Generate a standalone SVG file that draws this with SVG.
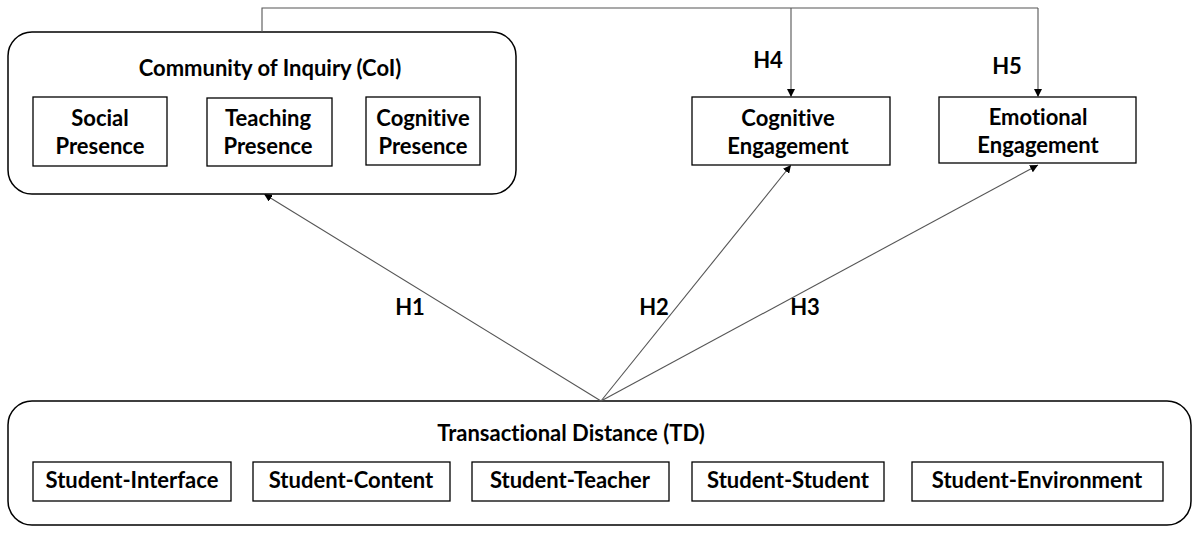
<svg xmlns="http://www.w3.org/2000/svg" width="1200" height="534" viewBox="0 0 1200 534">
<style>
.t{font-family:Lato,"Liberation Sans",sans-serif;font-weight:bold;font-size:22px;fill:#000;text-anchor:middle;font-variant-ligatures:none}
.big{fill:#fff;stroke:#000;stroke-width:1.5}
.box{fill:#fff;stroke:#000;stroke-width:1.3}
.c{fill:none;stroke:#555;stroke-width:1.1}
</style>
<defs>
<marker id="ah" viewBox="0 0 10 10" refX="10" refY="5" markerWidth="8" markerHeight="8" markerUnits="userSpaceOnUse" orient="auto">
<path d="M0,0 L10,5 L0,10 z" fill="#000"/>
</marker>
</defs>
<rect width="1200" height="534" fill="#fff"/>
<g id="coi">
<rect class="big" x="8" y="32" width="508" height="162" rx="24"/>
<text class="t" x="270" y="76">Community of Inquiry (CoI)</text>
</g>
<g id="social">
<rect class="box" x="33" y="97" width="134" height="69"/>
<text class="t" x="100" y="126">Social</text>
<text class="t" x="100" y="154">Presence</text>
</g>
<g id="teaching">
<rect class="box" x="207" y="98" width="125" height="68"/>
<text class="t" x="268" y="126">Teaching</text>
<text class="t" x="268" y="154">Presence</text>
</g>
<g id="cognitive-presence">
<rect class="box" x="366" y="97" width="114" height="68"/>
<text class="t" x="423" y="126">Cognitive</text>
<text class="t" x="423" y="154">Presence</text>
</g>
<g id="cognitive-engagement">
<rect class="box" x="692" y="97" width="198" height="68"/>
<text class="t" x="788" y="126">Cognitive</text>
<text class="t" x="788" y="154">Engagement</text>
</g>
<g id="emotional-engagement">
<rect class="box" x="939" y="97" width="197" height="66"/>
<text class="t" x="1038" y="125">Emotional</text>
<text class="t" x="1038" y="153">Engagement</text>
</g>
<g id="td">
<rect class="big" x="8" y="401" width="1183" height="124" rx="24"/>
<text class="t" x="571" y="441">Transactional Distance (TD)</text>
</g>
<g id="student-interface">
<rect class="box" x="33" y="462" width="198" height="39"/>
<text class="t" x="132" y="488">Student-Interface</text>
</g>
<g id="student-content">
<rect class="box" x="253" y="462" width="197" height="39"/>
<text class="t" x="351" y="488">Student-Content</text>
</g>
<g id="student-teacher">
<rect class="box" x="472" y="462" width="197" height="39"/>
<text class="t" x="570" y="488">Student-Teacher</text>
</g>
<g id="student-student">
<rect class="box" x="692" y="462" width="192" height="39"/>
<text class="t" x="788" y="488">Student-Student</text>
</g>
<g id="student-environment">
<rect class="box" x="912" y="462" width="251" height="39"/>
<text class="t" x="1037" y="488">Student-Environment</text>
</g>
<g id="connectors">
<path class="c" d="M262,32 V8 H1038"/>
<path class="c" d="M791,8 V97" marker-end="url(#ah)"/>
<path class="c" d="M1038,8 V97" marker-end="url(#ah)"/>
<path class="c" d="M601,401 L264,194" marker-end="url(#ah)"/>
<path class="c" d="M601,401 L791,165" marker-end="url(#ah)"/>
<path class="c" d="M601,401 L1038,165" marker-end="url(#ah)"/>
<text class="t" x="768" y="68">H4</text>
<text class="t" x="1007" y="74">H5</text>
<text class="t" x="410" y="315">H1</text>
<text class="t" x="654" y="315">H2</text>
<text class="t" x="805" y="315">H3</text>
</g>
</svg>
